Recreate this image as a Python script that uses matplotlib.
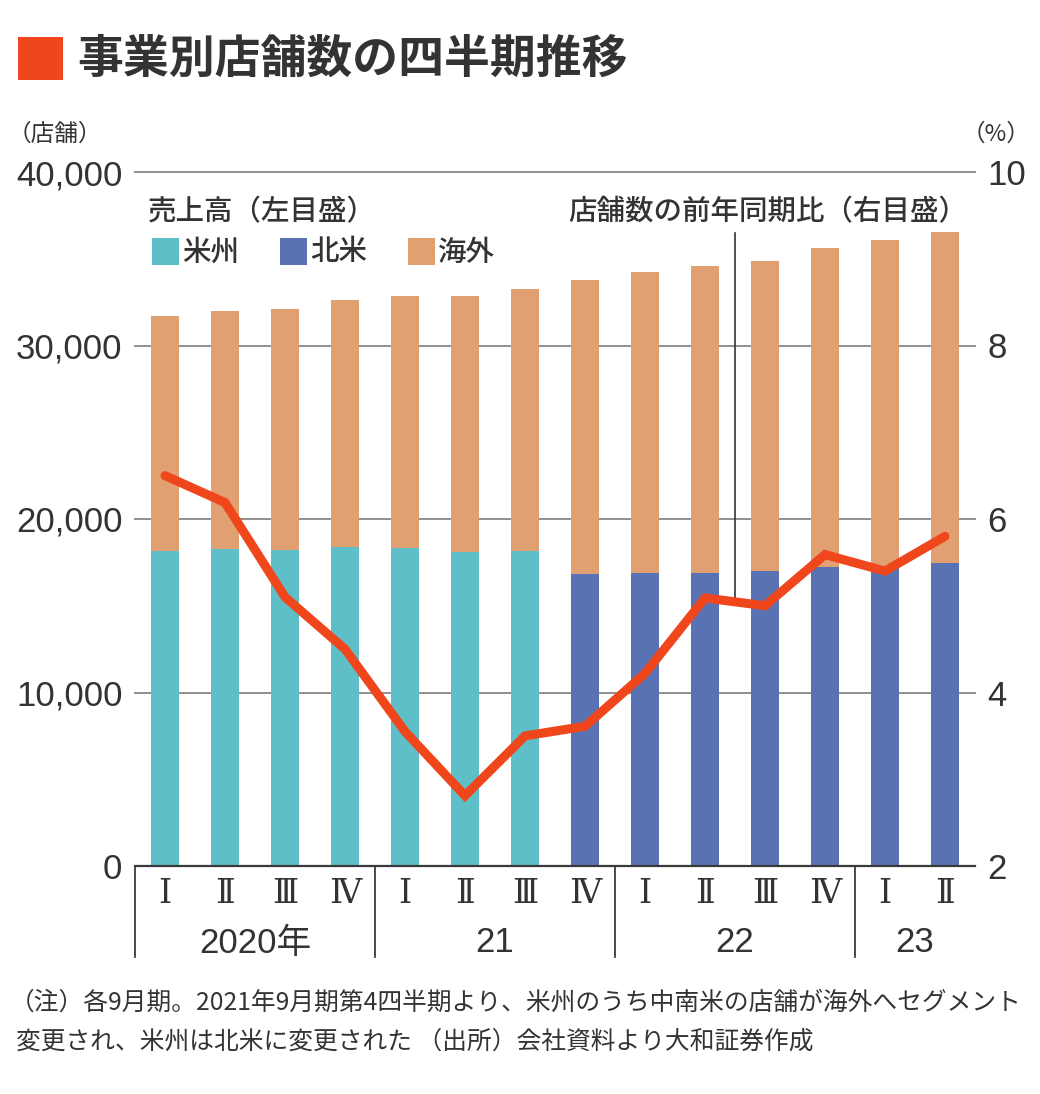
import numpy as np
import matplotlib
matplotlib.use("Agg")
import matplotlib.pyplot as plt
import matplotlib.transforms as mtransforms
from matplotlib.patches import Rectangle

plt.rcParams['font.family'] = ['Noto Sans CJK JP', 'DejaVu Sans']

# ---------------- data ----------------
quarters = ["Ⅰ", "Ⅱ", "Ⅲ", "Ⅳ", "Ⅰ", "Ⅱ", "Ⅲ", "Ⅳ", "Ⅰ", "Ⅱ", "Ⅲ", "Ⅳ", "Ⅰ", "Ⅱ"]
years = ["2020年", "21", "22", "23"]
year_quarter_counts = [4, 4, 4, 2]
americas = [18170, 18250, 18200, 18370, 18330, 18080, 18160, 0, 0, 0, 0, 0, 0, 0]
north_america = [0, 0, 0, 0, 0, 0, 0, 16810, 16870, 16870, 17020, 17250, 17250, 17450]
overseas = [13550, 13740, 13920, 14230, 14540, 14790, 15080, 16950, 17380, 17710, 17870, 18390, 18850, 19110]
yoy_growth = [6.50, 6.19, 5.10, 4.50, 3.55, 2.81, 3.50, 3.61, 4.22, 5.09, 5.00, 5.59, 5.40, 5.80]
left_ticks = [0, 10000, 20000, 30000, 40000]
right_ticks = [2, 4, 6, 8, 10]

# ---------------- style ----------------
W, H = 1040, 1094
TEAL = "#5EBFC8"
NAVY = "#5872B4"
PEACH = "#E0A072"
RED = "#F0461C"
TXT = "#333333"
GRID = "#8f8f8f"
NUM = ['Liberation Sans', 'Noto Sans CJK JP']
ROM = ['DejaVu Serif', 'Noto Sans CJK JP']


def fx(px):
    return px / W


def fy(py):
    return 1 - py / H


fig = plt.figure(figsize=(W / 100, H / 100), dpi=100)
ax = fig.add_axes([fx(135), fy(866), (975 - 135) / W, (866 - 172) / H])

x = np.arange(len(quarters))
am = np.array(americas)
na = np.array(north_america)
ov = np.array(overseas)
bw = 0.483
ax.bar(x, am, width=bw, color=TEAL, zorder=2)
ax.bar(x, na, width=bw, color=NAVY, zorder=2)
ax.bar(x, ov, width=bw, bottom=am + na, color=PEACH, zorder=2)

ax.set_xlim(-0.5, len(quarters) - 0.5)
ax.set_ylim(left_ticks[0], left_ticks[-1])
for t in left_ticks[1:]:
    ax.axhline(t, color=GRID, lw=1.4, zorder=0, clip_on=False)
ax.set_yticks(left_ticks)
ax.set_yticklabels([f"{t:,}" for t in left_ticks], family=NUM, fontsize=25, color=TXT)
ax.tick_params(axis='y', length=0, pad=9)
ax.set_xticks([])
for s in ['top', 'left', 'right']:
    ax.spines[s].set_visible(False)
ax.spines['bottom'].set_color('#3a3a3a')
ax.spines['bottom'].set_linewidth(1.6)
ax.spines['bottom'].set_zorder(3)

ax2 = ax.twinx()
ax2.set_ylim(right_ticks[0], right_ticks[-1])
ax2.set_yticks(right_ticks)
ax2.set_yticklabels([str(t) for t in right_ticks], family=NUM, fontsize=25, color=TXT)
ax2.tick_params(axis='y', length=0, pad=9)
for s in ['top', 'left', 'right', 'bottom']:
    ax2.spines[s].set_visible(False)

# leader line from label to the line
lead_x = 9.5
lead_bottom = (yoy_growth[9] + yoy_growth[10]) / 2
ax2.plot([lead_x, lead_x], [9.30, lead_bottom], color="#333333", lw=1.2, zorder=3)
ax2.plot(x, yoy_growth, color=RED, lw=6.5, solid_capstyle='round',
         solid_joinstyle='miter', zorder=4)

# category axis labels
trans = mtransforms.blended_transform_factory(ax.transData, fig.transFigure)
for i, q in enumerate(quarters):
    ax.text(i, fy(894), q, transform=trans, ha='center', va='center',
            family=ROM, fontsize=24, color=TXT)
start = -0.5
bounds = [start]
for n in year_quarter_counts:
    bounds.append(bounds[-1] + n)
for b in bounds[:-1]:
    ax.plot([b, b], [fy(866), fy(957)], transform=trans, color='#3a3a3a',
            lw=1.3, clip_on=False)
for i, yl in enumerate(years):
    mid = (bounds[i] + bounds[i + 1]) / 2
    ax.text(mid, fy(943), yl, transform=trans, ha='center', va='center',
            family=NUM, fontsize=25, color=TXT)

# title
fig.add_artist(Rectangle((fx(18), fy(80)), fx(63) - fx(18), (80 - 37) / H,
                         transform=fig.transFigure, color=RED, lw=0))
fig.text(fx(77), fy(60), "事業別店舗数の四半期推移", ha='left', va='center',
         fontsize=33, fontweight='bold', color=TXT)

# unit labels
fig.text(fx(8), fy(134), "（店舗）", ha='left', va='center', fontsize=17, color=TXT)
fig.text(fx(1030), fy(134), "（%）", ha='right', va='center', fontsize=17, color=TXT)

# legend
fig.text(fx(148), fy(212), "売上高（左目盛）", ha='left', va='center', fontsize=20.5,
         fontweight='medium', color=TXT)
fig.text(fx(568), fy(212), "店舗数の前年同期比（右目盛）", ha='left', va='center', fontsize=20.5,
         fontweight='medium', color=TXT)
leg_items = [(152, TEAL, "米州"), (280, NAVY, "北米"), (408, PEACH, "海外")]
for lx, col, lab in leg_items:
    fig.add_artist(Rectangle((fx(lx), fy(265)), 27 / W, 27 / H,
                             transform=fig.transFigure, color=col, lw=0))
    fig.text(fx(lx + 30), fy(252), lab, ha='left', va='center', fontsize=20.5,
             fontweight='medium', color=TXT)

# footnote
fig.text(fx(10), fy(1003),
         "（注）各9月期。2021年9月期第4四半期より、米州のうち中南米の店舗が海外へセグメント",
         ha='left', va='center', fontsize=17.8, color=TXT)
fig.text(fx(16), fy(1042),
         "変更され、米州は北米に変更された （出所）会社資料より大和証券作成",
         ha='left', va='center', fontsize=17.8, color=TXT)

fig.savefig("out.png", dpi=100, facecolor='white')
